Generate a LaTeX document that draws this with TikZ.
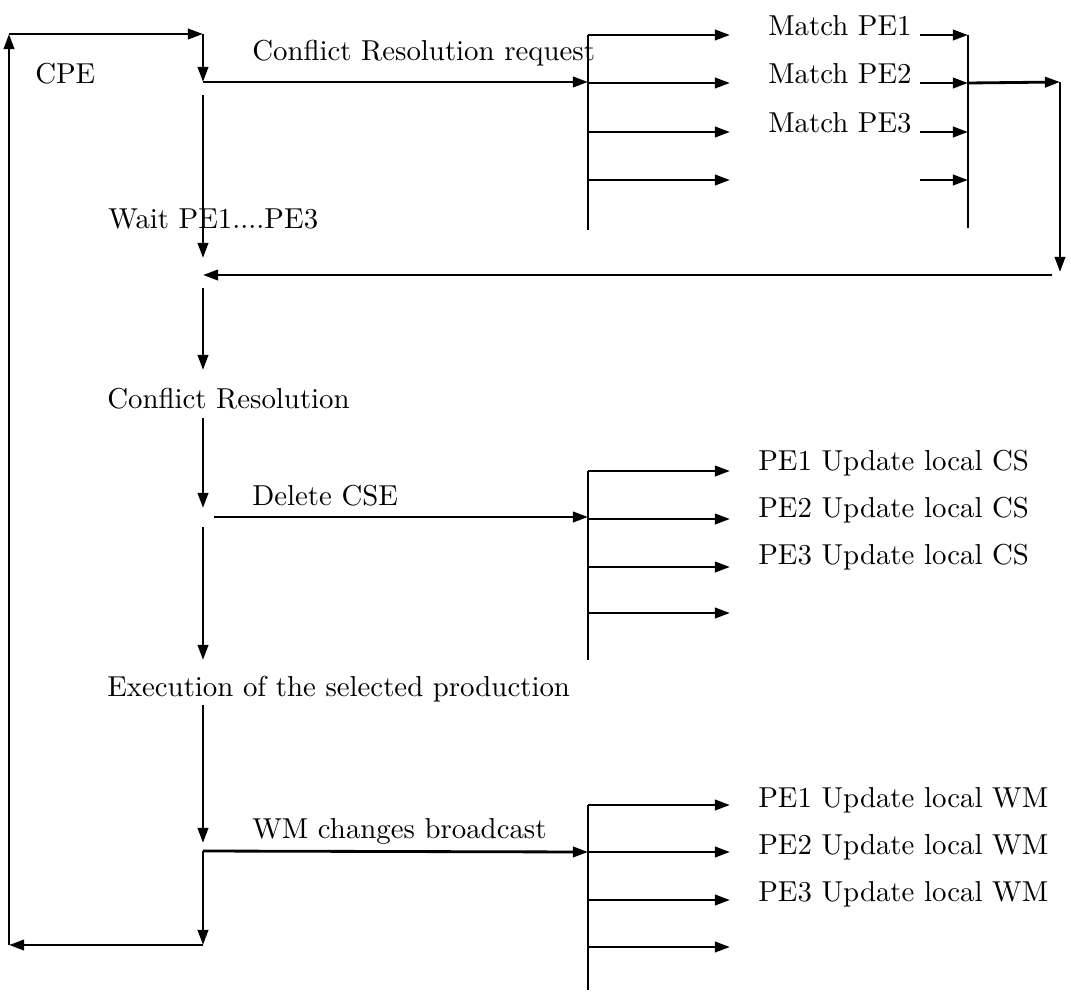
\documentclass[tikz,border=0pt]{standalone}
\usepackage{tikz}
\usepackage{graphicx}
\usetikzlibrary{arrows.meta, positioning, calc}
\newcommand{\lbltext}[1]{\scalebox{2.05}{\fontsize{10}{12}\selectfont #1}}

\begin{document}
\begin{tikzpicture}[x=0.025cm, y=-0.025cm,
  lbl/.style={inner sep=0pt, anchor=base west},
  arr/.style={-{Triangle[length=3.8mm, width=2.6mm]}, line width=2pt},
  ln/.style={line width=2pt}
]
\useasboundingbox (0,0) rectangle (1071,993);
% CPE control line
\coordinate (tl) at (9,34);
\coordinate (tr) at (203,34);
\coordinate (bl) at (9,945);
\coordinate (br) at (203,945);
\coordinate (req) at (203,82);
\coordinate (s1) at (203,95);   \coordinate (e1) at (203,258);
\coordinate (ret) at (203,275);
\coordinate (s2) at (203,288);  \coordinate (e2) at (203,370);
\coordinate (s3) at (203,418);  \coordinate (e3) at (203,508);
\coordinate (del) at (214,517);
\coordinate (s4) at (203,527);  \coordinate (e4) at (203,660);
\coordinate (s5) at (203,705);  \coordinate (e5) at (203,843);
\coordinate (bc) at (203,851);

\node[lbl] (cpe) at (35,83) {\lbltext{CPE}};
\node[lbl] (crr) at (252,60) {\lbltext{Conflict Resolution request}};
\node[lbl] (wait) at (108,228) {\lbltext{Wait PE1....PE3}};
\node[lbl] (cr) at (107,408) {\lbltext{Conflict Resolution}};
\node[lbl] (dcse) at (252,505) {\lbltext{Delete CSE}};
\node[lbl] (exec) at (107,696) {\lbltext{Execution of the selected production}};
\node[lbl] (wmcb) at (252,838) {\lbltext{WM changes broadcast}};

\draw[arr] (br) -- (bl);
\draw[arr] (bl) -- (tl);
\draw[arr] (tl) -- (tr);
\draw[arr] (tr) -- (req);
\draw[arr] (s1) -- (e1);
\draw[arr] (s2) -- (e2);
\draw[arr] (s3) -- (e3);
\draw[arr] (s4) -- (e4);
\draw[arr] (s5) -- (e5);
\draw[arr] (bc) -- (br);

% Match fan-out
\coordinate (mt) at (588,35);
\coordinate (mb) at (588,230);
\draw[ln] (mt) -- (mb);
\draw[arr] (req) -- (588,82);
\foreach \y [count=\i] in {35,83,132,180} {
  \coordinate (m\i) at (588,\y);
  \coordinate (mo\i) at (730,\y);
  \coordinate (mi\i) at (920,\y);
  \coordinate (mc\i) at (968,\y);
  \draw[arr] (m\i) -- (mo\i);
  \draw[arr] (mi\i) -- (mc\i);
}
\foreach \i in {1,2,3}
  \node[lbl] (match\i) at (768,{35+48.5*(\i-1)}) {\lbltext{Match PE\i}};
\coordinate (ct) at (968,35);
\coordinate (cb) at (968,228);
\draw[ln] (ct) -- (cb);
\coordinate (rt) at (1060,82);
\coordinate (rb) at (1060,272);
\coordinate (rs) at (1052,275);
\draw[arr] (mc2) -- (rt);
\draw[arr] (rt) -- (rb);
\draw[arr] (rs) -- (ret);

% Delete CSE fan-out
\coordinate (dt) at (588,471);
\coordinate (db) at (588,660);
\draw[ln] (dt) -- (db);
\draw[arr] (del) -- (588,517);
\foreach \y [count=\i] in {471,519,567,613} {
  \coordinate (d\i) at (588,\y);
  \coordinate (do\i) at (730,\y);
  \draw[arr] (d\i) -- (do\i);
}
\foreach \y [count=\i] in {470,517,564}
  \node[lbl] (cs\i) at (758,\y) {\lbltext{PE\i\ Update local CS}};

% WM broadcast fan-out
\coordinate (wt) at (588,805);
\coordinate (wb) at (588,990);
\draw[ln] (wt) -- (wb);
\draw[arr] (bc) -- (588,852);
\foreach \y [count=\i] in {805,852,900,947} {
  \coordinate (w\i) at (588,\y);
  \coordinate (wo\i) at (730,\y);
  \draw[arr] (w\i) -- (wo\i);
}
\foreach \y [count=\i] in {807,854,901}
  \node[lbl] (wm\i) at (758,\y) {\lbltext{PE\i\ Update local WM}};
\end{tikzpicture}
\end{document}
